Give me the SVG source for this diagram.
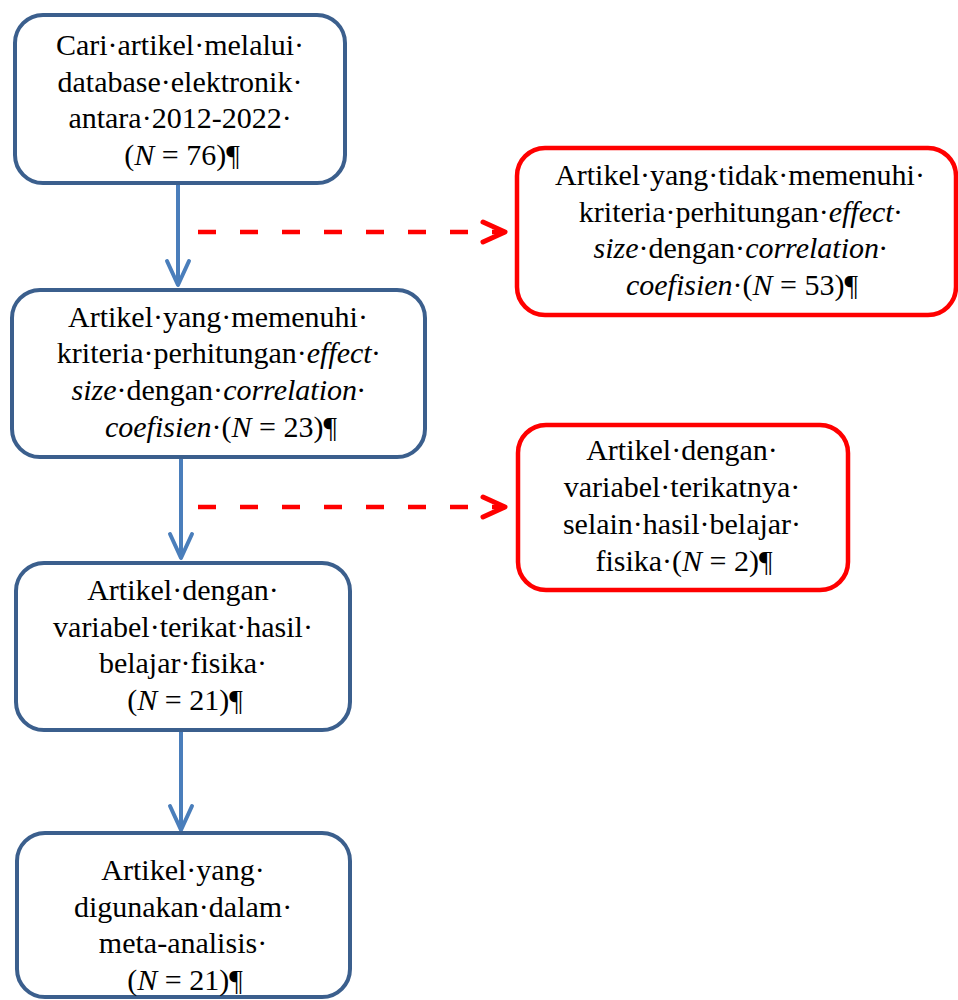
<svg xmlns="http://www.w3.org/2000/svg" width="958" height="1000" viewBox="0 0 958 1000">
<style>
.box{fill:#fff;stroke:#3b5f8d;stroke-width:4}
.rbox{fill:#fff;stroke:#ff0000;stroke-width:4.5}
text{font-family:"Liberation Serif","Times New Roman",serif;font-size:30px;fill:#000;text-anchor:middle}
.i{font-style:italic}
.flow{stroke:#4a7ebb;stroke-width:4;fill:none}
.dash{stroke:#ff0000;stroke-width:4.5;fill:none;stroke-dasharray:18 24}
</style>
<defs>
<marker id="ab" markerUnits="userSpaceOnUse" markerWidth="40" markerHeight="40" viewBox="-30 -20 40 40" refX="0" refY="0" orient="auto" overflow="visible">
<path d="M-24,-11 L0,0 L-24,11" fill="none" stroke="#4a7ebb" stroke-width="4" stroke-linejoin="round" stroke-linecap="round"/>
</marker>
<marker id="ar" markerUnits="userSpaceOnUse" markerWidth="40" markerHeight="40" viewBox="-30 -20 40 40" refX="0" refY="0" orient="auto" overflow="visible">
<path d="M-22,-10 L0,0 L-22,10" fill="none" stroke="#ff0000" stroke-width="5" stroke-linejoin="round" stroke-linecap="round"/>
</marker>
</defs>
<g id="connectors">
<line class="flow" x1="178" y1="183" x2="178" y2="285" marker-end="url(#ab)"/>
<line class="flow" x1="181" y1="457" x2="181" y2="558" marker-end="url(#ab)"/>
<line class="flow" x1="181" y1="730" x2="181" y2="830" marker-end="url(#ab)"/>
<line class="dash" x1="198" y1="232" x2="505" y2="232" marker-end="url(#ar)"/>
<line class="dash" x1="198" y1="507" x2="505" y2="507" marker-end="url(#ar)"/>
</g>
<g id="node1">
<rect class="box" x="15" y="15" width="330" height="168" rx="28"/>
<text x="180" y="55">Cari·artikel·melalui·</text>
<text x="180" y="92">database·elektronik·</text>
<text x="180" y="128">antara·2012-2022·</text>
<text x="182" y="165">(<tspan class="i">N</tspan> = 76)¶</text>
</g>
<g id="node2">
<rect class="box" x="12" y="290" width="413" height="167" rx="28"/>
<text x="218" y="327">Artikel·yang·memenuhi·</text>
<text x="218" y="363">kriteria·perhitungan·<tspan class="i">effect·</tspan></text>
<text x="218" y="400"><tspan class="i">size</tspan>·dengan·<tspan class="i">correlation·</tspan></text>
<text x="221" y="437"><tspan class="i">coefisien</tspan>·(<tspan class="i">N</tspan> = 23)¶</text>
</g>
<g id="node3">
<rect class="box" x="16" y="563" width="334" height="167" rx="28"/>
<text x="183" y="600">Artikel·dengan·</text>
<text x="183" y="637">variabel·terikat·hasil·</text>
<text x="183" y="673">belajar·fisika·</text>
<text x="185" y="710">(<tspan class="i">N</tspan> = 21)¶</text>
</g>
<g id="node4">
<rect class="box" x="17" y="833" width="333" height="164" rx="28"/>
<text x="183" y="880">Artikel·yang·</text>
<text x="183" y="917">digunakan·dalam·</text>
<text x="183" y="953">meta-analisis·</text>
<text x="185" y="990">(<tspan class="i">N</tspan> = 21)¶</text>
</g>
<g id="excluded1">
<rect class="rbox" x="517" y="148" width="439" height="167" rx="28"/>
<text x="740" y="185">Artikel·yang·tidak·memenuhi·</text>
<text x="740" y="222">kriteria·perhitungan·<tspan class="i">effect·</tspan></text>
<text x="740" y="258"><tspan class="i">size</tspan>·dengan·<tspan class="i">correlation·</tspan></text>
<text x="742" y="295"><tspan class="i">coefisien</tspan>·(<tspan class="i">N</tspan> = 53)¶</text>
</g>
<g id="excluded2">
<rect class="rbox" x="518" y="425" width="330" height="165" rx="28"/>
<text x="682" y="460">Artikel·dengan·</text>
<text x="682" y="497">variabel·terikatnya·</text>
<text x="682" y="534">selain·hasil·belajar·</text>
<text x="684" y="571">fisika·(<tspan class="i">N</tspan> = 2)¶</text>
</g>
</svg>
